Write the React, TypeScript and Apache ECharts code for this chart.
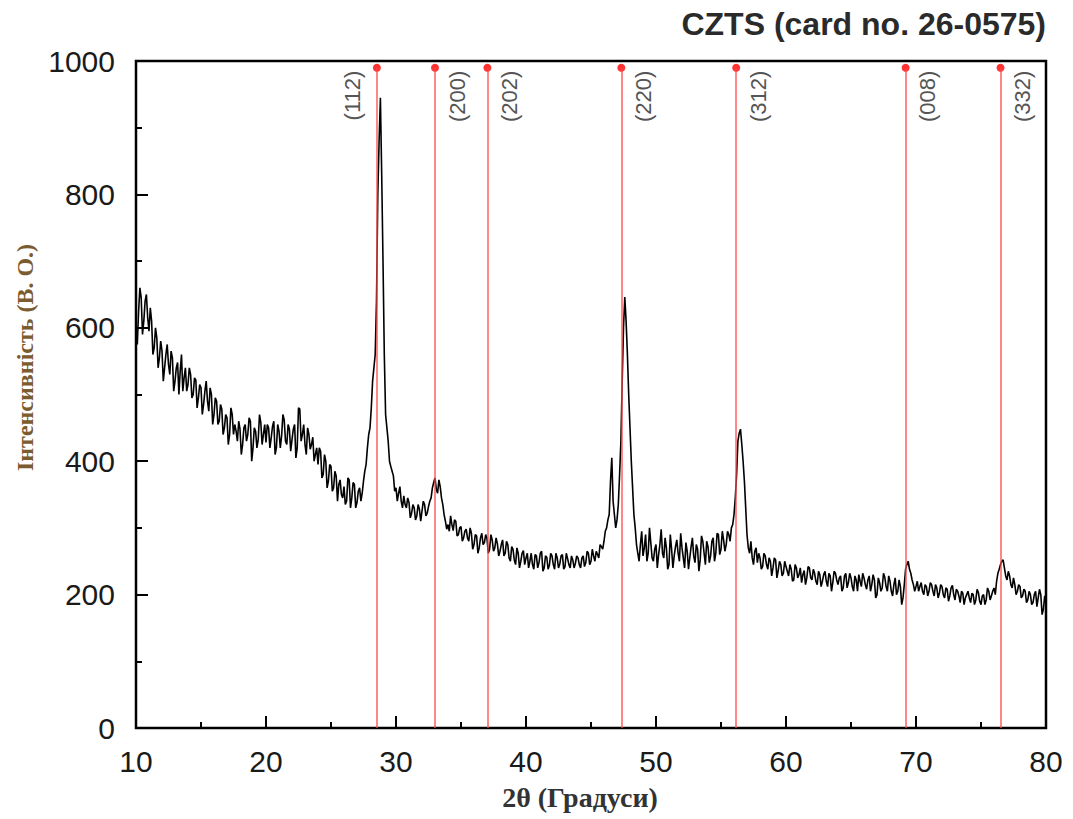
import React, { useEffect, useRef } from "react";
import * as echarts from "echarts";

// 2θ scan: start angle, step (degrees)
const scanStart = 10;
const scanStep = 0.1;

const intensityEven: number[] = [
  // 10.0 – 11.8
  600, 625, 645, 610, 650, 595, 610, 570, 585, 555,
  // 12.0 – 13.8
  565, 540, 575, 530, 555, 520, 548, 535, 505, 540,
  // 14.0 – 15.8
  515, 530, 500, 522, 495, 510, 485, 520, 475, 500,
  // 16.0 – 17.8
  470, 490, 460, 478, 450, 465, 440, 470, 455, 430,
  // 18.0 – 19.8
  448, 425, 455, 440, 460, 420, 445, 432, 458, 440,
  // 20.0 – 21.8
  428, 450, 435, 460, 420, 445, 438, 462, 425, 448,
  // 22.0 – 23.8
  432, 455, 420, 478, 440, 425, 450, 418, 436, 410,
  // 24.0 – 25.8
  395, 415, 380, 400, 370, 392, 360, 378, 365, 350,
  // 26.0 – 27.8
  362, 340, 372, 345, 365, 338, 360, 352, 385, 420,
  // 28.0 – 29.8
  450, 520, 560, 800, 945, 700, 470, 430, 392, 378,
  // 30.0 – 31.8
  360, 352, 340, 348, 330, 338, 322, 330, 318, 328,
  // 32.0 – 33.8
  325, 335, 322, 340, 360, 375, 352, 362, 335, 310,
  // 34.0 – 35.8
  305, 318, 296, 310, 290, 302, 285, 298, 280, 292,
  // 36.0 – 37.8
  275, 288, 270, 292, 278, 284, 268, 282, 270, 276,
  // 38.0 – 39.8
  265, 282, 262, 275, 250, 268, 245, 262, 250, 266,
  // 40.0 – 41.8
  255, 240, 262, 238, 258, 248, 265, 240, 256, 244,
  // 42.0 – 43.8
  258, 238, 255, 246, 260, 242, 254, 240, 252, 247,
  // 44.0 – 45.8
  255, 240, 258, 248, 262, 250, 258, 265, 255, 272,
  // 46.0 – 47.8
  280, 300, 320, 405, 320, 312, 380, 520, 646, 560,
  // 48.0 – 49.8
  450, 360, 300, 262, 275, 258, 290, 262, 278, 250,
  // 50.0 – 51.8
  275, 260, 298, 255, 270, 245, 268, 258, 282, 250,
  // 52.0 – 53.8
  270, 240, 265, 255, 285, 248, 268, 252, 280, 245,
  // 54.0 – 55.8
  272, 258, 285, 262, 290, 268, 282, 275, 290, 300,
  // 56.0 – 57.8
  320, 380, 442, 425, 370, 290, 262, 255, 265, 248,
  // 58.0 – 59.8
  255, 242, 258, 238, 250, 240, 252, 236, 245, 232,
  // 60.0 – 61.8
  242, 228, 238, 222, 240, 230, 218, 236, 225, 240,
  // 62.0 – 63.8
  222, 232, 215, 230, 220, 235, 212, 228, 218, 232,
  // 64.0 – 65.8
  215, 228, 210, 232, 218, 225, 205, 222, 230, 212,
  // 66.0 – 67.8
  225, 208, 228, 215, 222, 200, 218, 210, 226, 205,
  // 68.0 – 69.8
  220, 198, 225, 205, 212, 195, 238, 250, 232, 215,
  // 70.0 – 71.8
  212, 205, 218, 200, 212, 205, 215, 198, 210, 202,
  // 72.0 – 73.8
  212, 195, 208, 198, 214, 192, 205, 188, 202, 195,
  // 74.0 – 75.8
  205, 188, 200, 192, 203, 185, 200, 192, 205, 198,
  // 76.0 – 77.8
  210, 220, 238, 250, 240, 222, 228, 210, 215, 205,
  // 78.0 – 79.8
  212, 198, 205, 192, 200, 188, 205, 195, 200, 178,
  // 80.0
  185,
];

const intensityOdd: number[] = [
  // 10.1 – 11.9
  575, 660, 590, 640, 615, 630, 560, 600, 540, 580,
  // 12.1 – 13.9
  520, 560, 545, 565, 505, 540, 500, 560, 525, 505,
  // 14.1 – 15.9
  540, 495, 525, 480, 515, 470, 505, 490, 510, 455,
  // 16.1 – 17.9
  495, 455, 485, 440, 470, 425, 480, 440, 445, 460,
  // 18.1 – 19.9
  410, 450, 430, 465, 400, 450, 420, 470, 425, 455,
  // 20.1 – 21.9
  455, 420, 452, 410, 455, 420, 470, 430, 455, 415,
  // 22.1 – 23.9
  448, 405, 480, 430, 455, 410, 440, 425, 400, 420,
  // 24.1 – 25.9
  420, 375, 410, 360, 395, 355, 385, 340, 372, 345,
  // 26.1 – 27.9
  335, 375, 330, 368, 330, 355, 340, 370, 395, 440,
  // 28.1 – 29.9
  480, 540, 640, 880, 830, 560, 450, 400, 385, 355,
  // 30.1 – 31.9
  340, 362, 330, 335, 345, 315, 335, 312, 335, 310,
  // 32.1 – 33.9
  340, 318, 332, 345, 368, 358, 372, 345, 320, 298,
  // 34.1 – 35.9
  295, 305, 312, 288, 300, 280, 295, 285, 300, 268,
  // 36.1 – 37.9
  290, 262, 285, 275, 290, 262, 290, 265, 285, 258,
  // 38.1 – 39.9
  275, 258, 280, 255, 272, 252, 270, 240, 262, 245,
  // 40.1 – 41.9
  262, 250, 245, 260, 240, 262, 235, 258, 238, 262,
  // 42.1 – 43.9
  245, 262, 240, 258, 238, 262, 245, 258, 240, 258,
  // 44.1 – 45.9
  245, 255, 242, 265, 245, 268, 250, 260, 275, 268,
  // 46.1 – 47.9
  295, 312, 370, 340, 300, 335, 430, 600, 610, 500,
  // 48.1 – 49.9
  400, 320, 275, 250, 295, 270, 250, 300, 255, 268,
  // 50.1 – 51.9
  240, 275, 262, 285, 238, 290, 240, 272, 262, 292,
  // 52.1 – 53.9
  255, 278, 238, 272, 258, 275, 235, 288, 262, 280,
  // 54.1 – 55.9
  248, 280, 250, 292, 260, 295, 265, 295, 280, 305,
  // 56.1 – 57.9
  345, 430, 448, 400, 330, 270, 280, 245, 270, 262,
  // 58.1 – 59.9
  238, 262, 245, 255, 228, 255, 225, 250, 228, 250,
  // 60.1 – 61.9
  235, 245, 220, 245, 225, 240, 230, 215, 242, 225,
  // 62.1 – 63.9
  238, 220, 235, 212, 230, 220, 232, 205, 235, 222,
  // 64.1 – 65.9
  225, 205, 228, 210, 232, 212, 228, 205, 220, 232,
  // 66.1 – 67.9
  215, 222, 205, 230, 195, 225, 205, 232, 212, 228,
  // 68.1 – 69.9
  205, 215, 200, 222, 185, 215, 245, 238, 222, 205,
  // 70.1 – 71.9
  220, 212, 205, 215, 198, 218, 205, 215, 195, 215,
  // 72.1 – 73.9
  200, 210, 190, 210, 200, 208, 198, 205, 185, 200,
  // 74.1 – 75.9
  195, 202, 185, 208, 190, 198, 185, 210, 192, 205,
  // 76.1 – 77.9
  200, 232, 245, 252, 228, 235, 215, 225, 200, 215,
  // 78.1 – 79.9
  195, 208, 188, 205, 185, 200, 182, 208, 170, 198,
];

// CZTS reference reflections (card no. 26-0575)
const refPositions = [28.53, 33.0, 37.03, 47.33, 56.17, 69.2, 76.5];
const refLabels = ["(112)", "(200)", "(202)", "(220)", "(312)", "(008)", "(332)"];
const refTop = 990;

const titleText = "CZTS (card no. 26-0575)";
const xName = "2θ (Градуси)";
const yName = "Інтенсивність (В. О.)";

export default function App() {
  const ref = useRef<HTMLDivElement>(null);

  useEffect(() => {
    document.body.style.margin = "0";
    if (!ref.current) return;
    const chart = echarts.init(ref.current, undefined, { renderer: "svg" });

    const merged: number[] = [];
    intensityEven.forEach((v, i) => {
      merged.push(v);
      if (i < intensityOdd.length) merged.push(intensityOdd[i]);
    });
    const pattern = merged.map((v, k) => [
      Math.round((scanStart + k * scanStep) * 10) / 10,
      v,
    ]);

    const markData = refPositions.map((x, i) => [
      {
        coord: [x, 0],
        label: {
          show: true,
          formatter: refLabels[i],
          position: i === 0 ? "insideEndTop" : "insideEndBottom",
          distance: [3, i === 0 ? 13 : 11],
          color: "#555",
          fontSize: 22,
          fontFamily: "Liberation Sans",
        },
      },
      { coord: [x, refTop] },
    ]);

    const tickFont = {
      fontFamily: "Liberation Sans",
      fontSize: 30,
      color: "#1a1a1a",
    };

    chart.setOption({
      animation: false,
      backgroundColor: "#ffffff",
      title: {
        text: titleText,
        right: 22,
        top: 3,
        textStyle: {
          fontFamily: "Liberation Sans",
          fontSize: 32,
          fontWeight: "bold",
          color: "#2a2a2a",
        },
      },
      grid: {
        left: 136,
        right: 27,
        top: 61,
        bottom: 91,
        show: true,
        borderColor: "#000",
        borderWidth: 2.5,
        backgroundColor: "transparent",
      },
      xAxis: {
        type: "value",
        min: 10,
        max: 80,
        interval: 10,
        name: xName,
        nameLocation: "middle",
        nameGap: 55,
        nameTextStyle: {
          fontFamily: "Liberation Serif",
          fontSize: 28,
          fontWeight: "bold",
          color: "#333",
          padding: [0, 22, 0, 0],
        },
        axisLine: { show: true, lineStyle: { color: "#000", width: 2 } },
        axisTick: { show: true, inside: true, length: 12, lineStyle: { color: "#000", width: 2 } },
        minorTick: { show: true, splitNumber: 2, length: 6, lineStyle: { color: "#000", width: 2 } },
        axisLabel: { ...tickFont, margin: 18, formatter: (v: number) => String(v) },
        splitLine: { show: false },
        minorSplitLine: { show: false },
      },
      yAxis: {
        type: "value",
        min: 0,
        max: 1000,
        interval: 200,
        name: yName,
        nameLocation: "middle",
        nameRotate: 90,
        nameGap: 64,
        nameTextStyle: {
          fontFamily: "Liberation Serif",
          fontSize: 24,
          fontWeight: "bold",
          color: "#7b5b30",
          padding: [0, 0, 0, 74],
        },
        axisLine: { show: true, lineStyle: { color: "#000", width: 2 } },
        axisTick: { show: true, inside: true, length: 12, lineStyle: { color: "#000", width: 2 } },
        minorTick: { show: true, splitNumber: 2, length: 6, lineStyle: { color: "#000", width: 2 } },
        axisLabel: { ...tickFont, margin: 21, formatter: (v: number) => String(v) },
        splitLine: { show: false },
        minorSplitLine: { show: false },
      },
      series: [
        {
          type: "line",
          data: pattern,
          showSymbol: false,
          symbol: "none",
          lineStyle: { color: "#000", width: 1.6 },
          z: 2,
          silent: true,
        },
        {
          type: "line",
          data: [],
          z: 3,
          silent: true,
          markLine: {
            silent: true,
            symbol: ["none", "none"],
            animation: false,
            lineStyle: { color: "rgba(255,70,70,0.65)", width: 2, type: "solid" },
            label: { show: true },
            emphasis: { disabled: true },
            data: markData,
          },
        },
        {
          type: "scatter",
          data: refPositions.map((x) => [x, refTop]),
          symbol: "circle",
          symbolSize: 8,
          itemStyle: { color: "#ff0000" },
          z: 4,
          silent: true,
        },
      ],
    });

    return () => chart.dispose();
  }, []);

  return <div ref={ref} style={{ width: 1073, height: 819 }} />;
}
